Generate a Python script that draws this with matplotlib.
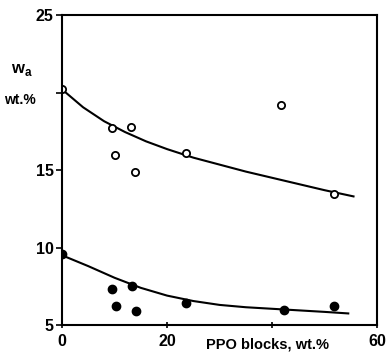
import numpy as np
import matplotlib
matplotlib.use("Agg")
import matplotlib.pyplot as plt

plt.rcParams['font.family'] = ['Liberation Sans', 'DejaVu Sans']
plt.rcParams['font.weight'] = 'bold'
plt.rcParams['mathtext.fontset'] = 'custom'
plt.rcParams['mathtext.bf'] = 'Liberation Sans:bold'

# open circles (upper set)
x_open = [0, 9.5, 13.1, 10.1, 13.9, 23.6, 41.7, 51.8]
y_open = [20.2, 17.7, 17.8, 16.0, 14.9, 16.1, 19.2, 13.45]
# filled circles (lower set)
x_fill = [0, 9.5, 13.3, 10.2, 14.1, 23.6, 42.3, 51.8]
y_fill = [9.6, 7.3, 7.5, 6.2, 5.9, 6.4, 6.0, 6.2]

# fitted curves
x_cu = [0, 4, 8, 12, 16, 20, 25, 30, 35, 40, 45, 50, 55.5]
y_cu = [20.2, 19.05, 18.15, 17.45, 16.85, 16.35, 15.8, 15.35, 14.9, 14.5, 14.1, 13.7, 13.3]
x_cl = [0, 5, 10, 15, 20, 25, 30, 35, 40, 45, 50, 54.5]
y_cl = [9.5, 8.8, 8.05, 7.4, 6.9, 6.55, 6.3, 6.15, 6.05, 5.95, 5.85, 5.75]

xticks = [0, 20, 40, 60]
xtick_labels = ['0', '20', '', '60']
yticks = [5, 10, 15, 20, 25]
ytick_labels = ['5', '10', '15', '', '25']

fig = plt.figure(figsize=(3.88, 3.58), dpi=100)
ax = fig.add_axes([0.160, 0.092, 0.812, 0.866])

ax.plot(x_cu, y_cu, color='black', lw=1.5)
ax.plot(x_cl, y_cl, color='black', lw=1.5)
ax.plot(x_open, y_open, 'o', ms=5.2, mfc='white', mec='black', mew=1.3, ls='none')
ax.plot(x_fill, y_fill, 'o', ms=6, mfc='black', mec='black', ls='none')

ax.set_xlim(0, 60)
ax.set_ylim(5, 25)
ax.set_xticks(xticks)
ax.set_xticklabels(xtick_labels)
ax.set_yticks(yticks)
ax.set_yticklabels(ytick_labels)
for s in ax.spines.values():
    s.set_linewidth(1.5)
ax.tick_params(axis='y', direction='out', length=4, width=1.2, labelsize=11.5, pad=2)
ax.tick_params(axis='x', direction='inout', length=5, width=1.2, labelsize=11.5, pad=4)

ax.text(-0.127, 0.822, r'$\mathbf{w}_{\mathbf{a}}$', transform=ax.transAxes,
        fontsize=12, ha='center', va='center')
ax.text(-0.133, 0.726, 'wt.%', transform=ax.transAxes,
        fontsize=10, ha='center', va='center', fontweight='bold')
fig.text(0.69, 0.019, 'PPO blocks, wt.%', fontsize=10.5, ha='center', va='bottom',
         fontweight='bold')

fig.savefig('out.png', dpi=100)
